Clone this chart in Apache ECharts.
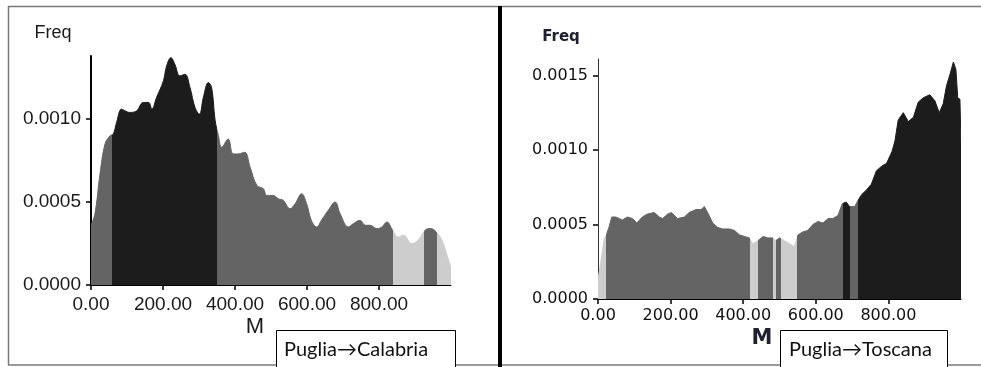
<!DOCTYPE html>
<html><head><meta charset="utf-8">
<script src="https://cdn.jsdelivr.net/npm/echarts@6/dist/echarts.min.js"></script>
<style>html,body{margin:0;padding:0;background:#fff}#c{width:981px;height:367px}</style>
</head><body><div id="c"></div>
<script>
// ---- Left panel: Puglia→Calabria ----
const leftM = [0,11,25,39,53,62,71,85,94,108,127,145,160,169,182,201,210,222,233,247,261,275,289,301,312,326,335,345,354,363,381,395,409,427,442,461,479,488,506,520,534,553,567,585,599,612,627,640,659,678,692,715,729,747,762,775,794,808,822,838,854,868,891,909,928,943,959,975,993,1000];
const leftFreq = [0.00036,0.00043,0.00067,0.00085,0.0009,0.00091,0.00098,0.00106,0.00105,0.00104,0.00105,0.0011,0.0011,0.00106,0.00113,0.00123,0.00132,0.00137,0.00133,0.00126,0.00127,0.00119,0.00107,0.00103,0.00113,0.00122,0.00119,0.00099,0.0009,0.00083,0.00088,0.00079,0.00079,0.0008,0.00071,0.0006,0.00058,0.00054,0.00054,0.00052,0.00051,0.00046,0.00049,0.00055,0.00049,0.00039,0.00035,0.00039,0.00045,0.0005,0.00043,0.00035,0.00037,0.00039,0.00036,0.00036,0.00034,0.00035,0.00038,0.00033,0.00029,0.0003,0.00025,0.00027,0.00033,0.00034,0.00032,0.00027,0.00015,0.00011];
const leftBreaks = [0,58,350,840,925,960,1000];
const leftShades = ['mid','dark','mid','light','mid','light'];
const leftTitle = 'Puglia→Calabria';

// ---- Right panel: Puglia→Toscana ----
const rightM = [0,6,17,23,30,38,49,67,81,95,107,122,136,155,169,178,192,203,219,238,251,270,284,293,302,316,330,343,362,376,390,403,417,426,440,455,468,482,489,500,514,528,541,551,564,578,592,606,620,634,647,661,673,684,693,707,716,726,739,753,767,781,795,810,818,827,841,855,869,882,896,914,928,940,951,960,970,979,986,991,997,1000];
const rightFreq = [0.00013,0.00022,0.0004,0.00043,0.00048,0.00055,0.00055,0.00053,0.00055,0.00054,0.00051,0.00055,0.00057,0.00058,0.00055,0.00054,0.00057,0.00058,0.00054,0.00055,0.00058,0.0006,0.0006,0.00062,0.00058,0.00051,0.00048,0.00047,0.00047,0.00046,0.00043,0.00042,0.00041,0.00037,0.00039,0.00042,0.00041,0.00041,0.00039,0.00041,0.00039,0.00037,0.00035,0.00043,0.00045,0.00046,0.0005,0.00052,0.00051,0.00054,0.00054,0.00056,0.00064,0.00065,0.00062,0.00062,0.00066,0.0007,0.00073,0.00077,0.00086,0.00089,0.00091,0.00099,0.00106,0.0012,0.00125,0.00119,0.00122,0.00132,0.00135,0.00137,0.00133,0.00125,0.00131,0.00143,0.00151,0.00159,0.00154,0.00135,0.00134,0.00105];
const rightBreaks = [0,22,420,442,481,489,503,547,674,694,717,1000];
const rightShades = ['light','mid','light','mid','light','mid','light','mid','dark','mid','dark'];
const rightTitle = 'Puglia→Toscana';

const xTicks = [0,200,400,600,800];
const leftYTicks = [0,0.0005,0.001];
const rightYTicks = [0,0.0005,0.001,0.0015];

const shadeColor = {dark:'#1c1c1c', mid:'#646464', light:'#cdcdcd'};

function pieces(breaks, shades){
  return shades.map((s,i)=>({gte:breaks[i], lt: i===shades.length-1 ? breaks[i+1]+1 : breaks[i+1], color: shadeColor[s]}));
}
function pairs(a,b){ return a.map((v,i)=>[v,b[i]]); }

const chart = echarts.init(document.getElementById('c'), null, {renderer:'canvas'});

const leftFont = 'Liberation Sans, Arial, sans-serif';
const rightFont = 'DejaVu Sans, sans-serif';

function xAxisCfg(gi, font, size, weight, color, margin){
  return {type:'value', gridIndex:gi, min:0, max:1000,
    axisLine:{show:true, lineStyle:{color:'#000', width:1}},
    axisTick:{show:true, customValues:xTicks, length:5, lineStyle:{color:'#000', width:1.5}},
    axisLabel:{customValues:xTicks, formatter:v=>v.toFixed(2), fontFamily:font, fontSize:size, fontWeight:weight, color:color, margin:margin},
    splitLine:{show:false}};
}
function yAxisCfg(gi, max, ticks, font, size, weight, color, lw, lc){
  return {type:'value', gridIndex:gi, min:0, max:max,
    axisLine:{show:true, lineStyle:{color:lc, width:lw}},
    axisTick:{show:true, customValues:ticks, length:5, lineStyle:{color:'#000', width:1.5}},
    axisLabel:{customValues:ticks, formatter:v=>v.toFixed(4), fontFamily:font, fontSize:size, fontWeight:weight, color:color, margin:10},
    splitLine:{show:false}};
}

chart.setOption({
  animation:false,
  grid:[
    {left:91, top:56, width:360, height:229},
    {left:598, top:59, width:363, height:240}
  ],
  xAxis:[ xAxisCfg(0, leftFont, 19, 'normal', '#1a1a1a', 10), xAxisCfg(1, rightFont, 16, 'normal', '#111', 9) ],
  yAxis:[ yAxisCfg(0, 0.00138, leftYTicks, leftFont, 19, 'normal', '#1a1a1a', 2, '#000'),
          yAxisCfg(1, 0.00161, rightYTicks, rightFont, 16, 'normal', '#111', 1, '#333') ],
  visualMap:[
    {type:'piecewise', show:false, seriesIndex:0, dimension:0, pieces:pieces(leftBreaks,leftShades)},
    {type:'piecewise', show:false, seriesIndex:1, dimension:0, pieces:pieces(rightBreaks,rightShades)}
  ],
  series:[
    {type:'line', xAxisIndex:0, yAxisIndex:0, data:pairs(leftM,leftFreq), smooth:0.4, symbol:'none',
     lineStyle:{width:1}, areaStyle:{opacity:1}},
    {type:'line', xAxisIndex:1, yAxisIndex:1, data:pairs(rightM,rightFreq), smooth:false, symbol:'none',
     lineStyle:{width:1}, areaStyle:{opacity:1}}
  ],
  graphic:[
    // frame
    {type:'line', shape:{x1:8,y1:6.5,x2:981,y2:6.5}, style:{stroke:'#7a7a7a', lineWidth:1.5}},
    {type:'line', shape:{x1:8.5,y1:6,x2:8.5,y2:365}, style:{stroke:'#7a7a7a', lineWidth:1.5}},
    {type:'line', shape:{x1:8,y1:365,x2:981,y2:365}, style:{stroke:'#7a7a7a', lineWidth:1.5}},
    {type:'line', shape:{x1:500,y1:6,x2:500,y2:367}, style:{stroke:'#000', lineWidth:4}},
    // axis titles
    {type:'text', x:53, y:33, style:{text:'Freq', font:'18px '+leftFont, fill:'#1a1a1a', textAlign:'center', textVerticalAlign:'middle'}},
    {type:'text', x:255, y:327, style:{text:'M', font:'22px '+leftFont, fill:'#1a1a1a', textAlign:'center', textVerticalAlign:'middle'}},
    {type:'text', x:561, y:37, style:{text:'Freq', font:'bold 15px '+rightFont, fill:'#202030', textAlign:'center', textVerticalAlign:'middle'}},
    {type:'text', x:762, y:339, style:{text:'M', font:'bold 21px '+rightFont, fill:'#202030', textAlign:'center', textVerticalAlign:'middle'}},
    // boxes
    {type:'rect', shape:{x:276.5,y:330.5,width:179,height:40}, style:{fill:'#fff', stroke:'#000', lineWidth:1}},
    {type:'text', x:284, y:350, style:{text:leftTitle, font:'20px Lato, sans-serif', fill:'#111', textVerticalAlign:'middle'}},
    {type:'rect', shape:{x:780.5,y:330.5,width:167,height:40}, style:{fill:'#fff', stroke:'#000', lineWidth:1}},
    {type:'text', x:789, y:350, style:{text:rightTitle, font:'20px Lato, sans-serif', fill:'#111', textVerticalAlign:'middle'}}
  ]
});
</script>
</body></html>
